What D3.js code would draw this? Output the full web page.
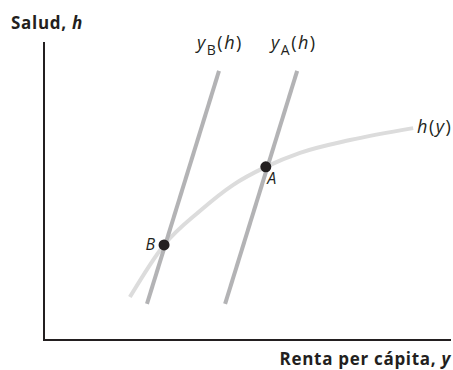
<!DOCTYPE html>
<html>
<head>
<meta charset="utf-8">
<script src="https://cdn.jsdelivr.net/npm/d3@7"></script>
<style>
  html, body { margin: 0; padding: 0; background: #fff; }
  svg text { font-family: "Open Sans", "Noto Sans", sans-serif; fill: #231f20; }
</style>
</head>
<body>
<svg id="chart" width="453" height="370"></svg>
<script>
// Health production curve h(y), sampled along its length
const curveX = [2.11, 2.95, 3.83, 4.64, 5.45, 6.29, 7.52, 9.07];
const curveH = [1.44, 3.19, 4.33, 5.20, 5.81, 6.28, 6.71, 7.11];

// Income-requirement lines y_B(h) and y_A(h): [bottom, top] endpoints
const lineBX = [2.53, 4.30];
const lineBH = [1.21, 9.03];
const lineAX = [4.45, 6.22];
const lineAH = [1.21, 9.03];

// Equilibrium points
const pointNames = ["A", "B"];
const pointX = [5.45, 2.95];
const pointH = [5.81, 3.19];

const svg = d3.select("#chart");
const x = d3.scaleLinear().domain([0, 10]).range([44, 451]);
const y = d3.scaleLinear().domain([0, 10]).range([340, 42]);

// h(y) curve
const smooth = d3.line().x(d => x(d[0])).y(d => y(d[1])).curve(d3.curveMonotoneX);
svg.append("path")
  .attr("d", smooth(curveX.map((v, i) => [v, curveH[i]])))
  .attr("fill", "none")
  .attr("stroke", "#dcdcdc")
  .attr("stroke-width", 4);

// y_B(h) and y_A(h)
const straight = d3.line().x(d => x(d[0])).y(d => y(d[1]));
[[lineBX, lineBH], [lineAX, lineAH]].forEach(([xs, hs]) => {
  svg.append("path")
    .attr("d", straight(xs.map((v, i) => [v, hs[i]])))
    .attr("fill", "none")
    .attr("stroke", "#b3b3b5")
    .attr("stroke-width", 4);
});

// Axes (plain lines, no ticks)
svg.append("line")
  .attr("x1", x(0)).attr("y1", y(10))
  .attr("x2", x(0)).attr("y2", y(0))
  .attr("stroke", "#231f20").attr("stroke-width", 2);
svg.append("line")
  .attr("x1", x(0) - 1).attr("y1", y(0))
  .attr("x2", x(10)).attr("y2", y(0))
  .attr("stroke", "#231f20").attr("stroke-width", 2);

// Points
svg.selectAll("circle.pt")
  .data(pointNames)
  .enter().append("circle")
  .attr("class", "pt")
  .attr("cx", (d, i) => x(pointX[i]))
  .attr("cy", (d, i) => y(pointH[i]))
  .attr("r", 5.5)
  .attr("fill", "#231f20");

// Point labels
svg.append("text")
  .attr("x", x(pointX[0]) + 6).attr("y", y(pointH[0]) + 17)
  .attr("text-anchor", "middle")
  .attr("font-size", 16).attr("font-style", "italic")
  .text(pointNames[0]);
svg.append("text")
  .attr("x", x(pointX[1]) - 9).attr("y", y(pointH[1]) + 5)
  .attr("text-anchor", "end")
  .attr("font-size", 16).attr("font-style", "italic")
  .text(pointNames[1]);

// Axis titles
const ty = svg.append("text").attr("x", 11).attr("y", 29)
  .attr("font-size", 17).attr("font-weight", "bold")
  .attr("letter-spacing", 0.7);
ty.append("tspan").text("Salud, ");
ty.append("tspan").attr("font-style", "italic").text("h");

const tx = svg.append("text").attr("x", 451).attr("y", 365)
  .attr("text-anchor", "end")
  .attr("font-size", 17).attr("font-weight", "bold")
  .attr("letter-spacing", 0.7);
tx.append("tspan").text("Renta per cápita, ");
tx.append("tspan").attr("font-style", "italic").text("y");

// Line labels
function subLabel(px, py, sub) {
  const t = svg.append("text").attr("x", px).attr("y", py)
    .attr("font-size", 18).attr("letter-spacing", 1.5);
  t.append("tspan").attr("font-style", "italic").text("y");
  t.append("tspan").attr("font-size", 14).attr("dy", 6).text(sub);
  t.append("tspan").attr("dy", -6).text("(");
  t.append("tspan").attr("font-style", "italic").text("h");
  t.append("tspan").text(")");
}
subLabel(197, 49, "B");
subLabel(271, 49, "A");

// Curve label
const hl = svg.append("text").attr("x", 417).attr("y", 133)
  .attr("font-size", 18).attr("letter-spacing", 1.5);
hl.append("tspan").attr("font-style", "italic").text("h");
hl.append("tspan").text("(");
hl.append("tspan").attr("font-style", "italic").text("y");
hl.append("tspan").text(")");
</script>
</body>
</html>
